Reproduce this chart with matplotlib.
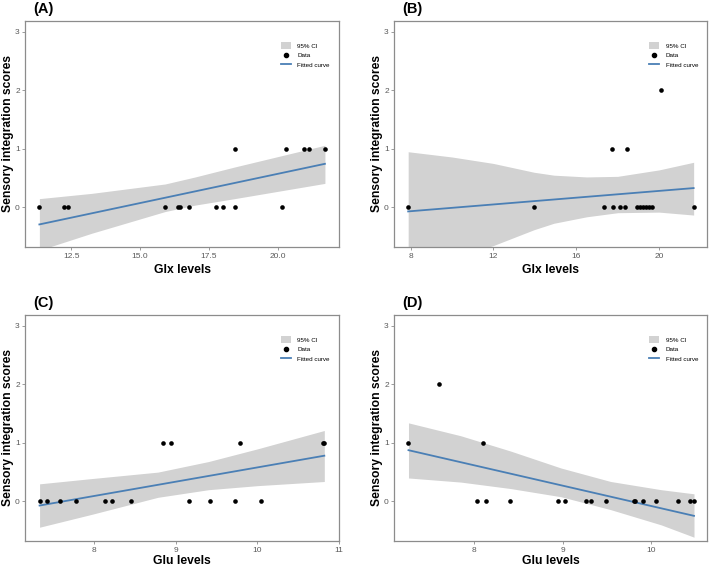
import matplotlib
matplotlib.use("Agg")
import matplotlib.pyplot as plt
from matplotlib.patches import Patch
from matplotlib.lines import Line2D

plt.rcParams['font.family'] = ['Liberation Sans', 'DejaVu Sans']

# ---- panel A : Glx levels ----
a_x = [11.35, 12.26, 12.40, 15.91, 16.37, 16.45, 16.78, 17.76, 18.01, 18.43, 20.13,
       18.43, 20.29, 20.93, 21.12, 21.70]
a_y = [0, 0, 0, 0, 0, 0, 0, 0, 0, 0, 0,
       1, 1, 1, 1, 1]
a_fit_x = [11.35, 21.70]
a_fit_y = [-0.29, 0.744]
a_band_x = [11.35, 13.25, 15.91, 17.0, 18.43, 21.70]
a_band_hi = [0.15, 0.24, 0.40, 0.52, 0.69, 1.06]
a_band_lo = [-0.73, -0.44, -0.07, 0.04, 0.15, 0.41]

# ---- panel B : Glx levels ----
b_x = [7.88, 13.96, 17.35, 17.79, 18.13, 18.34, 18.93, 19.07, 19.21, 19.36, 19.50, 19.64, 21.67,
       17.72, 18.46, 20.07]
b_y = [0, 0, 0, 0, 0, 0, 0, 0, 0, 0, 0, 0, 0,
       1, 1, 2]
b_fit_x = [7.88, 21.67]
b_fit_y = [-0.068, 0.33]
b_band_x = [7.88, 10.0, 12.0, 13.96, 14.92, 16.5, 18.0, 20.0, 21.67]
b_band_hi = [0.95, 0.86, 0.75, 0.60, 0.55, 0.52, 0.53, 0.64, 0.77]
b_band_lo = [-1.09, -0.88, -0.65, -0.38, -0.27, -0.16, -0.09, -0.08, -0.13]

# ---- panel C : Glu levels ----
c_x = [7.33, 7.42, 7.58, 7.78, 8.13, 8.22, 8.45, 9.16, 9.42, 9.73, 10.04,
       8.84, 8.94, 9.79, 10.80, 10.82]
c_y = [0, 0, 0, 0, 0, 0, 0, 0, 0, 0, 0,
       1, 1, 1, 1, 1]
c_fit_x = [7.33, 10.82]
c_fit_y = [-0.07, 0.78]
c_band_x = [7.33, 7.97, 8.78, 9.40, 10.01, 10.82]
c_band_hi = [0.30, 0.39, 0.50, 0.68, 0.90, 1.21]
c_band_lo = [-0.44, -0.22, 0.07, 0.20, 0.27, 0.34]

# ---- panel D : Glu levels ----
d_x = [7.26, 8.10, 7.60,
       8.03, 8.13, 8.40, 8.95, 9.02, 9.26, 9.32, 9.49, 9.80, 9.81, 9.91, 10.05, 10.30, 10.43, 10.48]
d_y = [1, 1, 2,
       0, 0, 0, 0, 0, 0, 0, 0, 0, 0, 0, 0, 0, 0, 0]
d_fit_x = [7.26, 10.48]
d_fit_y = [0.874, -0.246]
d_band_x = [7.26, 7.85, 8.41, 8.98, 9.54, 10.11, 10.48]
d_band_hi = [1.34, 1.12, 0.86, 0.57, 0.34, 0.20, 0.13]
d_band_lo = [0.40, 0.33, 0.22, 0.08, -0.14, -0.40, -0.61]

panel_names = ["(A)", "(B)", "(C)", "(D)"]
x_titles = ["Glx levels", "Glx levels", "Glu levels", "Glu levels"]
x_ticks = [[12.5, 15.0, 17.5, 20.0], [8, 12, 16, 20], [8, 9, 10, 11], [8, 9, 10]]
x_ticklabels = [["12.5", "15.0", "17.5", "20.0"], ["8", "12", "16", "20"],
                ["8", "9", "10", "11"], ["8", "9", "10"]]
y_ticks = [0, 1, 2, 3]
legend_labels = ["95% CI", "Data", "Fitted curve"]

FRAME = "#8c8c8c"
TICKTXT = "#5a5a5a"
BAND = "#d2d2d2"
LINE = "#4a7fb5"


def draw_panel(ax, px, py, fx, fy, bx, bhi, blo, xlim, name, xtitle, ticks, ticklabels, xpad=3):
    ax.fill_between(bx, blo, bhi, color=BAND, lw=0, zorder=1)
    ax.plot(fx, fy, color=LINE, lw=1.3, zorder=3)
    ax.scatter(px, py, s=11, color="black", zorder=4, linewidths=0)
    ax.set_xlim(xlim)
    ax.set_ylim(-0.675, 3.18)
    ax.set_xticks(ticks)
    ax.set_xticklabels(ticklabels)
    ax.set_yticks(y_ticks)
    ax.tick_params(axis="both", length=2, width=0.6, color=FRAME, labelsize=6,
                   labelcolor=TICKTXT, pad=2)
    for sp in ax.spines.values():
        sp.set_color(FRAME)
        sp.set_linewidth(0.9)
    ax.set_xlabel(xtitle, fontsize=8.7, fontweight="bold", labelpad=xpad)
    ax.set_ylabel("Sensory integration scores", fontsize=8.7, fontweight="bold")
    ax.yaxis.set_label_coords(-0.036, 0.5)
    ax.text(0.025, 1.02, name, transform=ax.transAxes, fontsize=10.5, fontweight="bold",
            ha="left", va="bottom")
    handles = [Patch(facecolor=BAND, edgecolor="none"),
               Line2D([], [], marker="o", color="black", ls="none", markersize=3),
               Line2D([], [], color=LINE, lw=1.3)]
    ax.legend(handles, legend_labels, loc="upper left", bbox_to_anchor=(0.815, 0.905),
              frameon=False, fontsize=4.5, handlelength=1.6, handleheight=1.2,
              handletextpad=1.0, labelspacing=0.5, borderpad=0, borderaxespad=0)


fig = plt.figure(figsize=(7.09, 5.68), dpi=100)
W, H = 709.0, 568.0
boxes = [(25.3, 21, 339, 247), (394.3, 21, 707.3, 247),
         (25.3, 315, 339, 541), (394.3, 315, 707.3, 541)]
axes = [fig.add_axes([l / W, 1 - b / H, (r - l) / W, (b - t) / H]) for (l, t, r, b) in boxes]

draw_panel(axes[0], a_x, a_y, a_fit_x, a_fit_y, a_band_x, a_band_hi, a_band_lo,
           (10.84, 22.21), panel_names[0], x_titles[0], x_ticks[0], x_ticklabels[0])
draw_panel(axes[1], b_x, b_y, b_fit_x, b_fit_y, b_band_x, b_band_hi, b_band_lo,
           (7.21, 22.33), panel_names[1], x_titles[1], x_ticks[1], x_ticklabels[1])
draw_panel(axes[2], c_x, c_y, c_fit_x, c_fit_y, c_band_x, c_band_hi, c_band_lo,
           (7.155, 11.0), panel_names[2], x_titles[2], x_ticks[2], x_ticklabels[2], xpad=1)
draw_panel(axes[3], d_x, d_y, d_fit_x, d_fit_y, d_band_x, d_band_hi, d_band_lo,
           (7.10, 10.63), panel_names[3], x_titles[3], x_ticks[3], x_ticklabels[3], xpad=1)

fig.savefig("out.png", dpi=100)
